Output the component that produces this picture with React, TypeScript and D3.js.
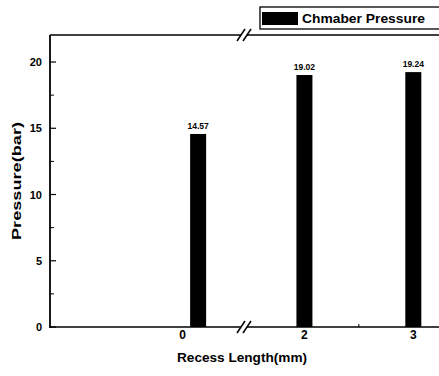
import React from "react";
import * as d3 from "d3";

const categories = ["0", "2", "3"];
const tickValues = [0, 2, 3];
const barPositions = [0.14, 2.0, 3.0];
const pressures = [14.57, 19.02, 19.24];
const valueLabels = ["14.57", "19.02", "19.24"];
const yTicks = [0, 5, 10, 15, 20];
const yMinorTicks = [2.5, 7.5, 12.5, 17.5];
const xMinorTicks = [2.5];
const legendLabel = "Chmaber Pressure";

const W = 439, H = 376;
const left = 50, right = 439, top = 35, bottom = 327;
const breakX = 244;

export default function App() {
  const x = d3.scaleLinear()
    .domain([-1.2, 0.555, 1.445, 3.236])
    .range([left, breakX, breakX, right]);
  const y = d3.scaleLinear().domain([0, 22.04]).range([bottom, top]);
  const font = "'Liberation Sans', Arial, sans-serif";
  const barW = 16;

  const slashes = (cy: number) =>
    [-3, 3].map((dx, i) => (
      <line key={i} x1={breakX + dx - 4} y1={cy + 6} x2={breakX + dx + 4} y2={cy - 6}
        stroke="#000" strokeWidth={1.5} />
    ));

  return (
    <svg width={W} height={H} style={{ position: "absolute", left: 0, top: 0, background: "#fff" }}
      fontFamily={font}>
      <rect x={0} y={0} width={W} height={H} fill="#fff" />
      {/* bars */}
      {pressures.map((v, i) => (
        <g key={i}>
          <rect x={x(barPositions[i]) - barW / 2} y={y(v)} width={barW} height={y(0) - y(v)} fill="#000" />
          <text x={x(barPositions[i])} y={y(v) - 5} textAnchor="middle" fontSize={8.5} fontWeight="bold">
            {valueLabels[i]}
          </text>
        </g>
      ))}
      {/* left axis */}
      <line x1={left} y1={top} x2={left} y2={bottom + 1} stroke="#000" strokeWidth={1.8} />
      {/* top axis with break */}
      <line x1={left} y1={top} x2={breakX - 3} y2={top} stroke="#000" strokeWidth={1.5} />
      <line x1={breakX + 3} y1={top} x2={right} y2={top} stroke="#000" strokeWidth={1.5} />
      {slashes(top)}
      {/* bottom axis with break */}
      <line x1={left} y1={bottom} x2={breakX - 3} y2={bottom} stroke="#000" strokeWidth={1.5} />
      <line x1={breakX + 3} y1={bottom} x2={right} y2={bottom} stroke="#000" strokeWidth={1.5} />
      {slashes(bottom)}
      {/* y ticks */}
      {yTicks.map((t) => (
        <g key={t}>
          <line x1={left} x2={left + 6} y1={y(t)} y2={y(t)} stroke="#000" strokeWidth={1.2} />
          <text x={left - 8} y={y(t) + 4} textAnchor="end" fontSize={11} fontWeight="bold">{t}</text>
        </g>
      ))}
      {yMinorTicks.map((t) => (
        <line key={t} x1={left} x2={left + 4} y1={y(t)} y2={y(t)} stroke="#000" strokeWidth={1} />
      ))}
      {/* x ticks */}
      {categories.map((c, i) => (
        <text key={c} x={x(tickValues[i])} y={bottom + 12} textAnchor="middle" fontSize={12} fontWeight="bold">{c}</text>
      ))}
      {xMinorTicks.map((t) => (
        <line key={t} x1={x(t)} x2={x(t)} y1={bottom} y2={bottom - 3} stroke="#000" strokeWidth={1} />
      ))}
      {/* axis titles */}
      <text x={177} y={362} fontSize={13} fontWeight="bold" textLength={130} lengthAdjust="spacingAndGlyphs">
        Recess Length(mm)
      </text>
      <text transform={`translate(21,240) rotate(-90)`} fontSize={13} fontWeight="bold"
        textLength={118} lengthAdjust="spacingAndGlyphs">Pressure(bar)</text>
      {/* legend */}
      <rect x={260} y={7} width={190} height={22} fill="#fff" stroke="#000" strokeWidth={1.3} />
      <rect x={262} y={12} width={36} height={13} fill="#000" />
      <text x={302} y={23} fontSize={13.5} fontWeight="bold" textLength={123} lengthAdjust="spacingAndGlyphs">
        {legendLabel}
      </text>
    </svg>
  );
}
